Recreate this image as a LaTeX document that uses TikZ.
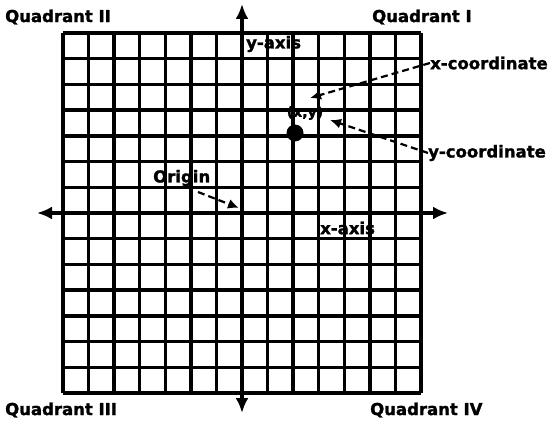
\documentclass[tikz,border=0pt]{standalone}
\usepackage{fontspec}
\setmainfont{DejaVu Sans}[BoldFeatures={FakeBold=1.5}]
\usetikzlibrary{arrows.meta}
\begin{document}
\begin{tikzpicture}[x=1pt,y=-1pt,
  lbl/.style={font=\fontsize{16.5}{18}\selectfont\bfseries, inner sep=0pt},
  gridline/.style={line width=3.3pt},
  axisline/.style={line width=3.5pt, {Latex[length=15pt,width=13pt]}-{Latex[length=15pt,width=13pt]}},
  ptr/.style={line width=2.2pt, dash pattern=on 7pt off 4pt, -{Latex[length=11pt,width=10pt]}}]
\useasboundingbox (0,0) rectangle (557,422);
% grid
\foreach \i in {0,...,14} {
  \draw[gridline] ({63+\i*25.571},33) -- ({63+\i*25.571},393);
  \draw[gridline] (63,{33+\i*25.714}) -- (421,{33+\i*25.714});
}
% axes
\coordinate (ytop) at (242,4);
\coordinate (ybot) at (242,413);
\coordinate (xl) at (37,213);
\coordinate (xr) at (448,213);
\draw[axisline] (ybot) -- (ytop);
\draw[axisline] (xl) -- (xr);
% labels
\node[lbl, anchor=west] (q2) at (5,17) {Quadrant II};
\node[lbl, anchor=west] (q1) at (372,17) {Quadrant I};
\node[lbl, anchor=west] (q3) at (5,410) {Quadrant III};
\node[lbl, anchor=west] (q4) at (370,410) {Quadrant IV};
\node[lbl, anchor=west] (ya) at (246,44) {y-axis};
\node[lbl, anchor=west] (xa) at (320,228) {x-axis};
\node[lbl, anchor=west] (orig) at (153,178) {Origin};
\node[lbl, anchor=west] (xc) at (430,63) {x-coordinate};
\node[lbl, anchor=west] (yc) at (428,153) {y-coordinate};
\node[lbl, anchor=center, font=\fontsize{14}{15}\selectfont\bfseries] (xy) at (305,113) {(x,y)};
% point
\node[circle, fill=black, minimum size=17pt, inner sep=0pt] (pt) at (295,133) {};
% pointers
\coordinate (xtip) at (310,98);
\coordinate (ytip) at (330,120);
\coordinate (otip) at (239,208);
\draw[ptr] (xc.west) -- (xtip);
\draw[ptr] (yc.west) -- (ytip);
\draw[ptr] (198,192) -- (otip);
\end{tikzpicture}
\end{document}
